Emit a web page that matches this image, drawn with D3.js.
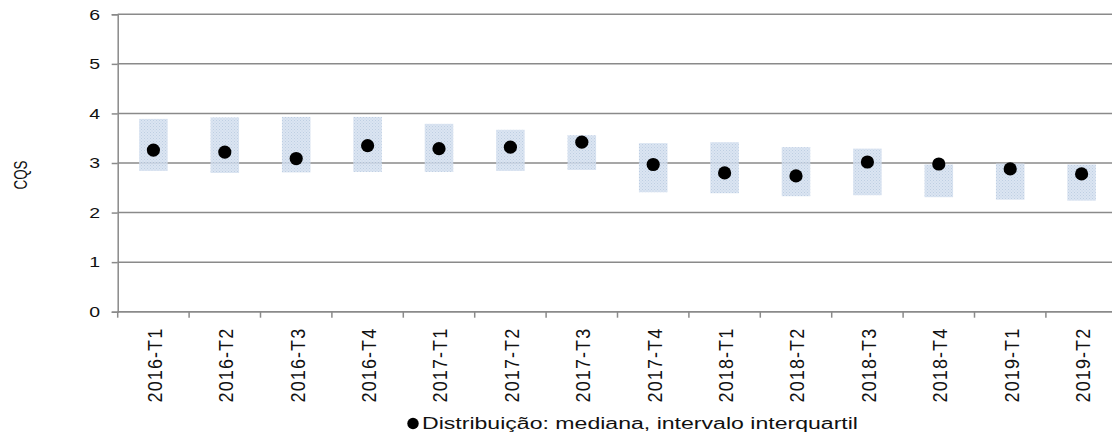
<!DOCTYPE html>
<html>
<head>
<meta charset="utf-8">
<script src="https://cdn.jsdelivr.net/npm/d3@7"></script>
<style>
  html, body { margin: 0; padding: 0; background: #fff; }
  svg { display: block; font-family: "Liberation Sans", Arial, sans-serif; }
</style>
</head>
<body>
<div id="chart"></div>
<script>
// data
const categories = ["2016-T1", "2016-T2", "2016-T3", "2016-T4", "2017-T1", "2017-T2", "2017-T3",
  "2017-T4", "2018-T1", "2018-T2", "2018-T3", "2018-T4", "2019-T1", "2019-T2"];
const medians = [3.26, 3.22, 3.09, 3.35, 3.29, 3.32, 3.42, 2.97, 2.80, 2.74, 3.02, 2.98, 2.88, 2.78];
const upperQuartile = [3.89, 3.92, 3.93, 3.93, 3.79, 3.67, 3.56, 3.40, 3.42, 3.32, 3.29, 2.97, 2.99, 2.97];
const lowerQuartile = [2.84, 2.80, 2.81, 2.82, 2.82, 2.84, 2.86, 2.41, 2.39, 2.33, 2.35, 2.31, 2.26, 2.24];
const yTicks = [0, 1, 2, 3, 4, 5, 6];
const yTitle = "CQS";
const legendLabel = "Distribuição: mediana, intervalo interquartil";

const width = 1112;
const height = 436;
const plotLeft = 117.7, plotRight = 1117.3, plotTop = 14.3, plotBottom = 311.7;
const gridColor = "#8a8a8a";

const rows = categories.map((c, i) => ({ cat: c, med: medians[i], hi: upperQuartile[i], lo: lowerQuartile[i] }));

const svg = d3.select("#chart").append("svg").attr("width", width).attr("height", height);

// dotted light blue fill like the original
const defs = svg.append("defs");
const pat = defs.append("pattern").attr("id", "dots")
  .attr("width", 3).attr("height", 3).attr("patternUnits", "userSpaceOnUse");
pat.append("rect").attr("width", 3).attr("height", 3).attr("fill", "#d5e0ef");
pat.append("rect").attr("width", 1).attr("height", 1).attr("fill", "#b2c5de");
pat.append("rect").attr("x", 1.5).attr("y", 1.5).attr("width", 1).attr("height", 1).attr("fill", "#bccde3");

const x = d3.scaleBand().domain(categories).range([plotLeft, plotRight]).padding(0);
const y = d3.scaleLinear().domain([0, 6]).range([plotBottom, plotTop]);

// gridlines
svg.append("g")
  .selectAll("line")
  .data(yTicks)
  .enter()
  .append("line")
  .attr("x1", plotLeft).attr("x2", plotRight)
  .attr("y1", d => y(d)).attr("y2", d => y(d))
  .attr("stroke", gridColor).attr("stroke-width", 1.5);

// interquartile boxes
const boxW = x.bandwidth() * 0.4;
svg.append("g")
  .selectAll("rect")
  .data(rows)
  .enter()
  .append("rect")
  .attr("x", d => x(d.cat) + x.bandwidth() / 2 - boxW / 2)
  .attr("y", d => y(d.hi))
  .attr("width", boxW)
  .attr("height", d => y(d.lo) - y(d.hi))
  .attr("fill", "url(#dots)")
  .attr("opacity", 0.85);

// y axis
const yAxis = svg.append("g")
  .attr("transform", "translate(" + plotLeft + ",0)")
  .call(d3.axisLeft(y).tickValues(yTicks).tickSize(6).tickPadding(0).tickFormat(d3.format("d")));
yAxis.select(".domain").attr("stroke", gridColor).attr("stroke-width", 1.5);
yAxis.selectAll(".tick line").attr("stroke", gridColor).attr("stroke-width", 1.5);
yAxis.selectAll(".tick text")
  .attr("x", -17.7 / 1.3)
  .attr("transform", "scale(1.3,1)")
  .attr("font-size", 15)
  .attr("fill", "#111")
  .attr("font-family", "Liberation Sans, Arial, sans-serif");

// x axis: ticks at category boundaries
svg.append("line")
  .attr("x1", plotLeft).attr("x2", plotRight).attr("y1", plotBottom).attr("y2", plotBottom)
  .attr("stroke", gridColor).attr("stroke-width", 1.5);
svg.append("g")
  .selectAll("line")
  .data(categories)
  .enter()
  .append("line")
  .attr("x1", d => x(d)).attr("x2", d => x(d))
  .attr("y1", plotBottom).attr("y2", plotBottom + 6)
  .attr("stroke", gridColor).attr("stroke-width", 1.5);

// rotated category labels
svg.append("g")
  .selectAll("text")
  .data(categories)
  .enter()
  .append("text")
  .attr("transform", d => "translate(" + (x(d) + x.bandwidth() / 2 + 1.5) + "," + (plotBottom + 16) + ") scale(1.1,1) rotate(-90)")
  .attr("text-anchor", "end")
  .attr("dominant-baseline", "central")
  .attr("font-size", 18)
  .attr("letter-spacing", 1.1)
  .attr("fill", "#111")
  .text(d => d);

// medians
svg.append("g")
  .selectAll("circle")
  .data(rows)
  .enter()
  .append("circle")
  .attr("cx", d => x(d.cat) + x.bandwidth() / 2)
  .attr("cy", d => y(d.med))
  .attr("r", 6.6)
  .attr("fill", "#000");

// y title
svg.append("text")
  .attr("transform", "translate(20,175) scale(1.4,1) rotate(-90)")
  .attr("text-anchor", "middle")
  .attr("dominant-baseline", "central")
  .attr("font-size", 13.4)
  .attr("fill", "#111")
  .text(yTitle);

// legend
const legend = svg.append("g");
legend.append("circle").attr("cx", 413).attr("cy", 423.5).attr("r", 5.7).attr("fill", "#000");
legend.append("text")
  .attr("x", 422).attr("y", 429)
  .attr("font-size", 15.8)
  .attr("textLength", 436)
  .attr("lengthAdjust", "spacingAndGlyphs")
  .attr("fill", "#111")
  .text(legendLabel);
</script>
</body>
</html>
